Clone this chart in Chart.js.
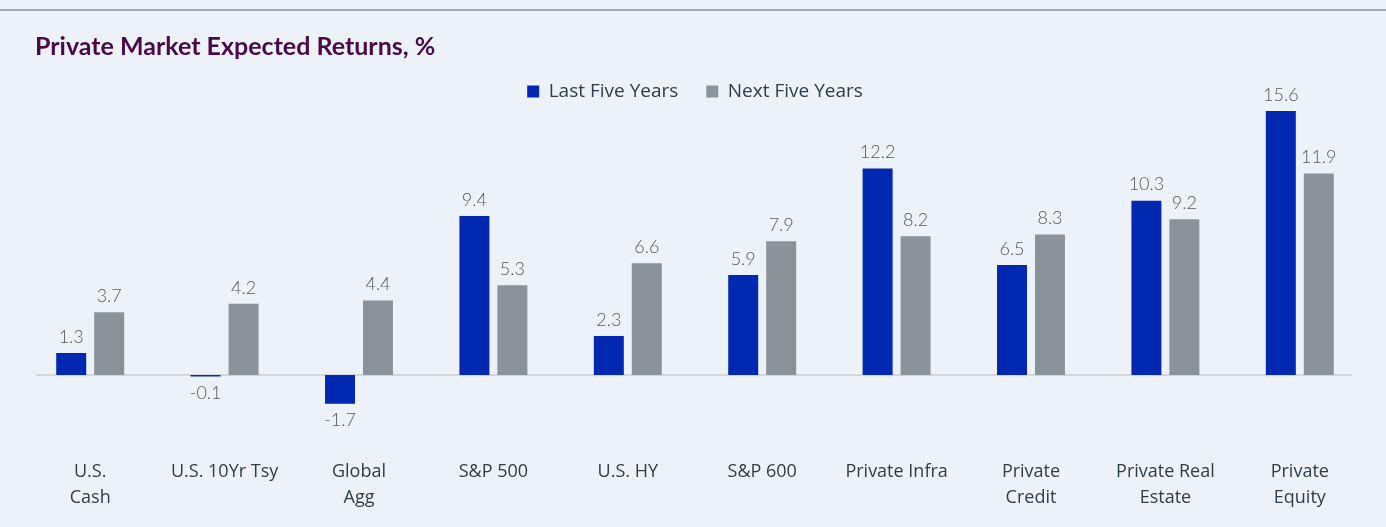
<!DOCTYPE html>
<html><head><meta charset="utf-8">
<script src="https://cdn.jsdelivr.net/npm/chart.js@4"></script>
<style>
html,body{margin:0;padding:0;background:#EDF2F9;width:1386px;height:527px;overflow:hidden;}
#line{position:absolute;left:0;top:9px;width:1386px;height:2px;background:#A3AAB2;}
#wrap{position:absolute;left:0;top:0;width:1386px;height:527px;}
</style></head>
<body>
<div id="line"></div>
<div id="wrap"><canvas id="c" width="1386" height="527"></canvas></div>
<script>
const chartTitle = 'Private Market Expected Returns, %';
const categories = [['U.S.','Cash'],'U.S. 10Yr Tsy',['Global','Agg'],'S&P 500','U.S. HY','S&P 600','Private Infra',['Private','Credit'],['Private Real','Estate'],['Private','Equity']];
const lastFiveYears = [1.3, -0.1, -1.7, 9.4, 2.3, 5.9, 12.2, 6.5, 10.3, 15.6];
const nextFiveYears = [3.7, 4.2, 4.4, 5.3, 6.6, 7.9, 8.2, 8.3, 9.2, 11.9];
const seriesNames = ['Last Five Years','Next Five Years'];

const FONT = "Lato, 'Open Sans', sans-serif";
const LFONT = "'Open Sans', Lato, sans-serif";

const titlePlugin = {
  id:'titlePlugin',
  beforeDraw(chart){
    const ctx = chart.ctx;
    ctx.save();
    ctx.font = "bold 25px " + FONT;
    ctx.fillStyle = '#4A0A4A';
    ctx.textAlign = 'left';
    ctx.textBaseline = 'middle';
    ctx.fillText(chartTitle, 35, 47);
    ctx.restore();
  }
};
const valueLabels = {
  id:'valueLabels',
  afterDatasetsDraw(chart){
    const ctx = chart.ctx;
    ctx.save();
    ctx.font = "300 18px " + FONT;
    ctx.fillStyle = '#55595e';
    ctx.textAlign = 'center';
    ctx.textBaseline = 'middle';
    chart.data.datasets.forEach((ds,i)=>{
      const meta = chart.getDatasetMeta(i);
      meta.data.forEach((bar,j)=>{
        const v = ds.data[j];
        const y = v >= 0 ? bar.y - 16 : bar.y + 17;
        ctx.fillText(v.toFixed(1), bar.x, y);
      });
    });
    ctx.restore();
  }
};
const zeroLine = {
  id:'zeroLine',
  beforeDatasetsDraw(chart){
    const ctx = chart.ctx, a = chart.chartArea;
    const y = chart.scales.y.getPixelForValue(0);
    ctx.save();
    ctx.strokeStyle = '#D3D6DA';
    ctx.lineWidth = 2;
    ctx.beginPath();
    ctx.moveTo(a.left + 13, y);
    ctx.lineTo(a.right - 15, y);
    ctx.stroke();
    ctx.restore();
  }
};

new Chart(document.getElementById('c'), {
  type:'bar',
  data:{
    labels: categories,
    datasets:[
      {label: seriesNames[0], data: lastFiveYears, backgroundColor:'#0028B0', borderWidth:0},
      {label: seriesNames[1], data: nextFiveYears, backgroundColor:'#899398', borderWidth:0}
    ]
  },
  options:{
    responsive:false,
    animation:false,
    layout:{padding:{left:23, right:19, top:54, bottom:13}},
    datasets:{bar:{categoryPercentage:0.565, barPercentage:0.79}},
    plugins:{
      title:{display:false},
      legend:{display:true, position:'top',
        labels:{color:'#2E3D4B', font:{family:LFONT, size:19}, boxWidth:12, boxHeight:12, padding:28}},
      tooltip:{enabled:false}
    },
    scales:{
      x:{grid:{display:false}, border:{display:false},
        ticks:{color:'#2E3D4B', font:{family:LFONT, size:18, lineHeight:1.45}, padding:3, maxRotation:0, autoSkip:false}},
      y:{display:false, min:-4.31, max:15.6}
    }
  },
  plugins:[titlePlugin, valueLabels, zeroLine]
});
</script>
</body></html>
